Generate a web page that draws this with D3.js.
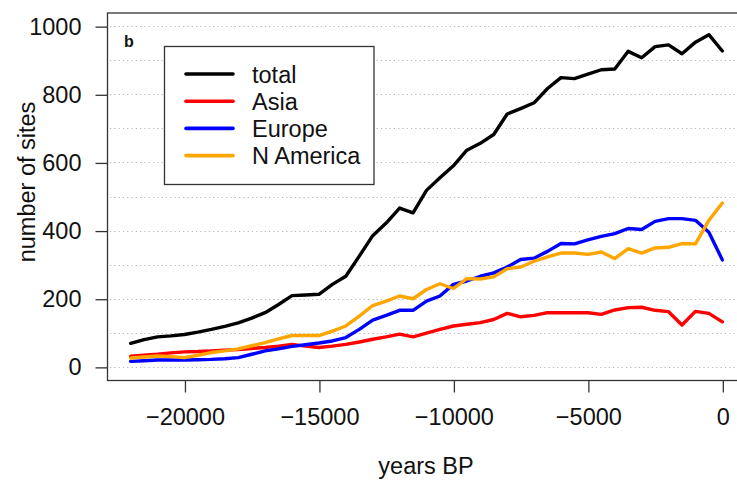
<!DOCTYPE html>
<html>
<head>
<meta charset="utf-8">
<script src="https://cdn.jsdelivr.net/npm/d3@7/dist/d3.min.js"></script>
<style>
  html, body { margin: 0; padding: 0; background: #fff; }
  svg { display: block; }
  text { font-family: "Liberation Sans", Arial, sans-serif; fill: #111; }
</style>
</head>
<body>
<svg id="chart" width="737" height="480"></svg>
<script>
// Years before present, 500-year bins
const years = [-22000, -21500, -21000, -20500, -20000, -19500, -19000, -18500, -18000,
  -17500, -17000, -16500, -16000, -15500, -15000, -14500, -14000, -13500, -13000,
  -12500, -12000, -11500, -11000, -10500, -10000, -9500, -9000, -8500, -8000,
  -7500, -7000, -6500, -6000, -5500, -5000, -4500, -4000, -3500, -3000,
  -2500, -2000, -1500, -1000, -500, 0];

// Number of sites per bin
const total = [69, 80, 88, 91, 95, 102, 110, 119, 129, 143, 159, 183, 209, 211, 213,
  242, 266, 325, 385, 422, 466, 452, 518, 555, 590, 636, 656, 682, 742, 758, 775,
  817, 849, 846, 859, 872, 874, 926, 907, 940, 945, 919, 953, 975, 927];
const asia = [31, 34, 37, 41, 44, 45, 47, 49, 51, 54, 57, 61, 66, 61, 57, 61, 66, 73,
  81, 88, 96, 88, 99, 110, 120, 125, 130, 139, 157, 147, 151, 159, 159, 159, 159,
  154, 167, 174, 175, 166, 162, 123, 163, 157, 132];
const europe = [16, 18, 20, 20, 20, 21, 22, 24, 27, 37, 47, 53, 60, 65, 70, 76, 86,
  110, 137, 151, 166, 166, 193, 208, 242, 252, 266, 276, 293, 315, 319, 339, 362,
  361, 373, 383, 391, 406, 403, 427, 435, 435, 430, 395, 314];
const nAmerica = [26, 29, 32, 30, 27, 34, 42, 47, 53, 62, 71, 82, 92, 92, 92, 105,
  120, 149, 180, 193, 208, 200, 227, 244, 230, 259, 258, 264, 288, 293, 310, 323,
  334, 334, 330, 337, 318, 347, 334, 349, 351, 362, 361, 430, 481];

const seriesNames = ["total", "Asia", "Europe", "N America"];
const seriesColors = ["#000000", "#ff0000", "#0000ff", "#ffa500"];
const xTicks = [-20000, -15000, -10000, -5000, 0];
const yTicks = [0, 200, 400, 600, 800, 1000];
const gridValues = [0, 100, 200, 300, 400, 500, 600, 700, 800, 900, 1000];

const series = [total, asia, europe, nAmerica].map((vals, i) => ({
  name: seriesNames[i],
  color: seriesColors[i],
  points: years.map((yr, j) => ({ yr, v: vals[j] }))
}));

const svg = d3.select("#chart");
const plotLeft = 107, plotRight = 746, plotTop = 12.5, plotBottom = 380.5;
const fontSize = "23.5px";

const x = d3.scaleLinear().domain([-22880, 880]).range([plotLeft, plotRight]);
const y = d3.scaleLinear().domain([-40, 1040]).range([plotBottom, plotTop]);

// dotted horizontal grid
svg.append("g")
  .selectAll("line")
  .data(gridValues)
  .join("line")
  .attr("x1", plotLeft + 3)
  .attr("x2", plotRight)
  .attr("y1", d => Math.round(y(d)) + 0.5)
  .attr("y2", d => Math.round(y(d)) + 0.5)
  .attr("stroke", "#b5b5b5")
  .attr("stroke-width", 1.2)
  .attr("stroke-dasharray", "1.2,3.1");

// series lines
const line = d3.line().x(d => x(d.yr)).y(d => y(d.v));
svg.append("g")
  .selectAll("path")
  .data(series)
  .join("path")
  .attr("d", d => line(d.points))
  .attr("fill", "none")
  .attr("stroke", d => d.color)
  .attr("stroke-width", 3.4)
  .attr("stroke-linejoin", "round")
  .attr("stroke-linecap", "round");

// plot frame
svg.append("rect")
  .attr("x", plotLeft + 0.5)
  .attr("y", plotTop + 0.5)
  .attr("width", plotRight - plotLeft)
  .attr("height", plotBottom - plotTop - 0.5)
  .attr("fill", "none")
  .attr("stroke", "#333")
  .attr("stroke-width", 1.3);

// x axis
const xAxis = d3.axisBottom(x)
  .tickValues(xTicks)
  .tickSize(12)
  .tickPadding(16)
  .tickFormat(d => d < 0 ? "\u2212" + Math.abs(d) : String(d));
const gx = svg.append("g")
  .attr("transform", `translate(0.5,${plotBottom})`)
  .call(xAxis);
gx.select(".domain").remove();
gx.selectAll(".tick line").attr("stroke", "#333").attr("stroke-width", 1.3);
gx.selectAll(".tick text")
  .attr("fill", "#111")
  .style("font-size", fontSize)
  .style("font-family", "'Liberation Sans', Arial, sans-serif");

// y axis
const yAxis = d3.axisLeft(y)
  .tickValues(yTicks)
  .tickSize(12)
  .tickPadding(14)
  .tickFormat(d => String(d));
const gy = svg.append("g")
  .attr("transform", `translate(${plotLeft + 0.5},0.5)`)
  .call(yAxis);
gy.select(".domain").remove();
gy.selectAll(".tick line").attr("stroke", "#333").attr("stroke-width", 1.3);
gy.selectAll(".tick text")
  .attr("fill", "#111")
  .style("font-size", fontSize)
  .style("font-family", "'Liberation Sans', Arial, sans-serif");

// axis titles
svg.append("text")
  .attr("x", 426)
  .attr("y", 474)
  .attr("text-anchor", "middle")
  .style("font-size", fontSize)
  .text("years BP");

svg.append("text")
  .attr("transform", "translate(35,182) rotate(-90)")
  .attr("text-anchor", "middle")
  .style("font-size", fontSize)
  .text("number of sites");

// panel letter
svg.append("text")
  .attr("x", 124)
  .attr("y", 47)
  .style("font-size", "16px")
  .style("font-weight", "bold")
  .text("b");

// legend
const legend = svg.append("g");
legend.append("rect")
  .attr("x", 164.5)
  .attr("y", 46.5)
  .attr("width", 209.5)
  .attr("height", 138)
  .attr("fill", "#fff")
  .attr("stroke", "#333")
  .attr("stroke-width", 1.3);

const rows = legend.selectAll("g.row")
  .data(series)
  .join("g")
  .attr("class", "row")
  .attr("transform", (d, i) => `translate(0,${74 + i * 27.2})`);
rows.append("line")
  .attr("x1", 186)
  .attr("x2", 233)
  .attr("stroke", d => d.color)
  .attr("stroke-width", 3.6)
  .attr("stroke-linecap", "round");
rows.append("text")
  .attr("x", 252)
  .attr("y", 8.5)
  .style("font-size", fontSize)
  .text(d => d.name);
</script>
</body>
</html>
